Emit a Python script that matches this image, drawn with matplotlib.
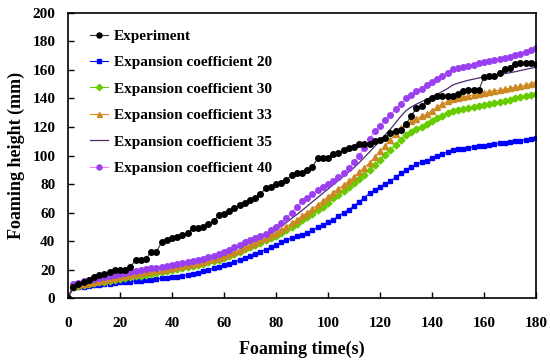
import numpy as np
import matplotlib
matplotlib.use("Agg")
import matplotlib.pyplot as plt

plt.rcParams['font.family'] = ['Liberation Serif', 'DejaVu Serif']
plt.rcParams['font.weight'] = 'bold'

time_s = list(range(0, 181, 2))

experiment = [0, 8, 10, 11, 13, 15, 16, 17, 18, 20, 20, 20, 21.5, 27, 27, 27.5, 32.5, 32.5, 39, 41,
              42, 42.5, 44, 45.5, 49, 49, 50, 52, 54, 58, 59, 61, 63, 65, 67, 69, 70, 73, 77, 78,
              80, 81, 83, 86, 88, 88, 90, 92, 98, 98, 98, 101, 102, 104, 105, 106, 108, 108, 108, 110,
              111, 112, 116, 117, 118, 122, 128, 133, 135, 138, 140, 142, 142, 142, 142, 143.5, 145, 146, 146, 146,
              155, 155.5, 156, 158, 161, 161.5, 164, 165, 165, 165, 164]

coef20 = [0, 7, 7.5, 8, 8.5, 9, 9.4, 9.8, 10.2, 10.6, 11, 11.3, 11.6, 11.9, 12.2, 12.5, 12.9, 13.3, 13.8, 14.2,
          14.7, 15.1, 15.6, 16.3, 17.1, 17.9, 18.8, 19.8, 20.8, 21.9, 23, 24.2, 25.5, 26.8, 28.2, 29.6, 31, 32.5, 34, 35.6,
          37.3, 39, 40.7, 42, 43.2, 44.5, 46, 47.8, 49.6, 51.4, 53.2, 55, 57.4, 59.8, 62, 64.5, 67.5, 70.5, 73.5, 76,
          78, 80, 82, 84.8, 87.5, 90, 92, 93.8, 95.2, 96.5, 98, 99.5, 101, 102.5, 103.6, 104.3, 104.9, 105.5, 106, 106.5,
          107, 107.5, 108, 108.5, 109, 109.5, 110, 110.5, 111, 111.5, 112]

coef30 = [0, 8, 8.6, 9.2, 9.8, 10.4, 11, 11.6, 12.2, 12.8, 13.4, 14, 14.6, 15.2, 15.8, 16.4, 17, 17.6, 18.2, 18.9,
          19.6, 20.3, 21, 21.8, 22.6, 23.4, 24.2, 25, 25.8, 27, 28.3, 29.6, 31, 32.5, 34.3, 35.7, 37.2, 38.8, 40.5, 42.2,
          43.8, 45.5, 47.5, 49.8, 52.2, 54.6, 56.8, 59, 61.5, 64, 67, 70, 72.5, 75, 77.8, 80.5, 83.5, 86.5, 89.8, 93.3,
          96.8, 100.4, 104, 107.5, 111, 114.5, 116.5, 118.5, 120, 121.8, 124, 126, 128, 130, 131.5, 132.2, 132.9, 133.6, 134.3, 135,
          135.7, 136.4, 137.1, 137.8, 138.5, 139.2, 140, 140.8, 141.6, 142.4, 143.2]

coef33 = [0, 8.4, 9.1, 9.8, 10.5, 11.2, 11.9, 12.6, 13.3, 14, 14.7, 15.4, 16.1, 16.8, 17.5, 18.2, 18.8, 19.4, 20, 20.6,
          21.2, 21.8, 22.5, 23.2, 24, 24.8, 25.6, 26.4, 27.2, 28.4, 29.7, 31, 32.4, 34, 35.7, 37.2, 38.8, 40.5, 42.3, 44,
          45.8, 47.8, 50, 52.4, 55, 57.6, 60, 62.5, 65.2, 68, 71, 74, 76.6, 79.2, 82, 85, 88.2, 91.5, 95, 99,
          103, 107, 111, 115, 119, 122, 124, 125.8, 127.4, 129, 131.5, 134, 136, 138, 139.4, 140.2, 141, 141.8, 142.6, 143.4,
          144.2, 144.8, 145.4, 146, 146.6, 147.2, 147.9, 148.6, 149.4, 150.5, 151.6]

coef35 = [0, 9, 9.8, 10.5, 11.2, 11.9, 12.6, 13.3, 14, 14.8, 15.6, 16.4, 17.1, 17.8, 18.5, 19.2, 19.8, 20.4, 21, 21.6,
          22.2, 22.8, 23.5, 24.3, 25.1, 25.9, 26.8, 27.7, 28.7, 30, 31.4, 32.8, 34.3, 35.9, 37.5, 39, 40.6, 42.2, 44, 46,
          48.2, 50.5, 53, 55.8, 58.6, 61.5, 64.5, 67.5, 70.5, 73.5, 76.5, 79.5, 82.5, 85.5, 88.5, 91.5, 95, 98.8, 102.5, 106.5,
          110.5, 114.5, 118.5, 123, 127.5, 131.5, 134, 136, 137.8, 139.2, 141, 143, 145, 147, 149.5, 150.8, 151.8, 152.8, 153.6, 154.4,
          155.1, 155.7, 156.3, 156.9, 157.5, 158.1, 158.8, 159.6, 160.4, 161.2, 162]

coef40 = [0, 9.8, 10.8, 11.8, 12.7, 13.5, 14.3, 15, 15.7, 16.4, 17.1, 17.8, 18.4, 19, 19.6, 20.2, 20.8, 21.4, 22, 22.6,
          23.2, 23.8, 24.5, 25.3, 26.1, 26.9, 27.7, 28.6, 29.6, 31, 32.5, 34, 35.6, 37.3, 39, 40.5, 42, 43.6, 45.3, 47.5,
          50, 53, 56.5, 60, 64, 68, 70.5, 73, 75.5, 78, 80.2, 82.4, 84.8, 87.5, 91.2, 95.5, 100, 105.5, 111.5, 117.4,
          121, 124.8, 128.4, 132.4, 136.3, 140, 142.5, 145, 147, 149.5, 151.5, 153.5, 155.8, 158.2, 160.5, 161.5, 162.3, 163, 163.8, 164.6,
          165.4, 166.2, 167, 167.8, 168.6, 169.4, 170.4, 171.4, 172.6, 174, 175.6]

labels = ["Experiment", "Expansion coefficient 20", "Expansion coefficient 30",
          "Expansion coefficient 33", "Expansion coefficient 35", "Expansion coefficient 40"]
x_ticks = [0, 20, 40, 60, 80, 100, 120, 140, 160, 180]
y_ticks = [0, 20, 40, 60, 80, 100, 120, 140, 160, 180, 200]

fig = plt.figure(figsize=(5.5, 3.6), dpi=100)
ax = fig.add_axes([0.1236, 0.172, 0.851, 0.792])

ms = 4
ax.plot(time_s, experiment, color='#333333', lw=0.8, marker='o', ms=ms, mfc='black', mec='black', label=labels[0], zorder=6)
ax.plot(time_s, coef20, color='#0000FF', lw=0.8, marker='s', ms=ms - 0.5, mfc='#0000FF', mec='#0000FF', label=labels[1])
ax.plot(time_s, coef30, color='#66CC00', lw=0.8, marker='D', ms=ms - 0.5, mfc='#66CC00', mec='#66CC00', label=labels[2])
ax.plot(time_s, coef33, color='#E08A1E', lw=0.8, marker='^', ms=ms, mfc='#CC8822', mec='#CC8822', label=labels[3])
ax.plot(time_s, coef35, color='#4B2A6B', lw=0.9, label=labels[4])
ax.plot(time_s, coef40, color='#FF77FF', lw=0.8, marker='o', ms=ms, mfc='#9A40F0', mec='#9A40F0', label=labels[5])

ax.set_xlim(0, 180)
ax.set_ylim(0, 200)
ax.set_xticks(x_ticks)
ax.set_yticks(y_ticks)
ax.tick_params(direction='in', length=4, width=1, labelsize=11, top=False, right=False)
ax.tick_params(axis='x', pad=13.5)
ax.tick_params(axis='y', pad=9)
for lab in ax.get_xticklabels() + ax.get_yticklabels():
    lab.set_fontweight('bold')
for sp in ax.spines.values():
    sp.set_linewidth(1.2)

ax.set_xlabel("Foaming time(s)", fontsize=13, fontweight='bold', labelpad=8)
ax.set_ylabel("Foaming height (mm)", fontsize=13, fontweight='bold', labelpad=5.5)

leg = ax.legend(loc='upper left', bbox_to_anchor=(0.034, 0.964), borderaxespad=0, frameon=False,
                handlelength=1.2, labelspacing=0.83, handletextpad=0.35, markerscale=0.9,
                prop={'weight': 'bold', 'size': 11})

fig.savefig("out.png", dpi=100)
